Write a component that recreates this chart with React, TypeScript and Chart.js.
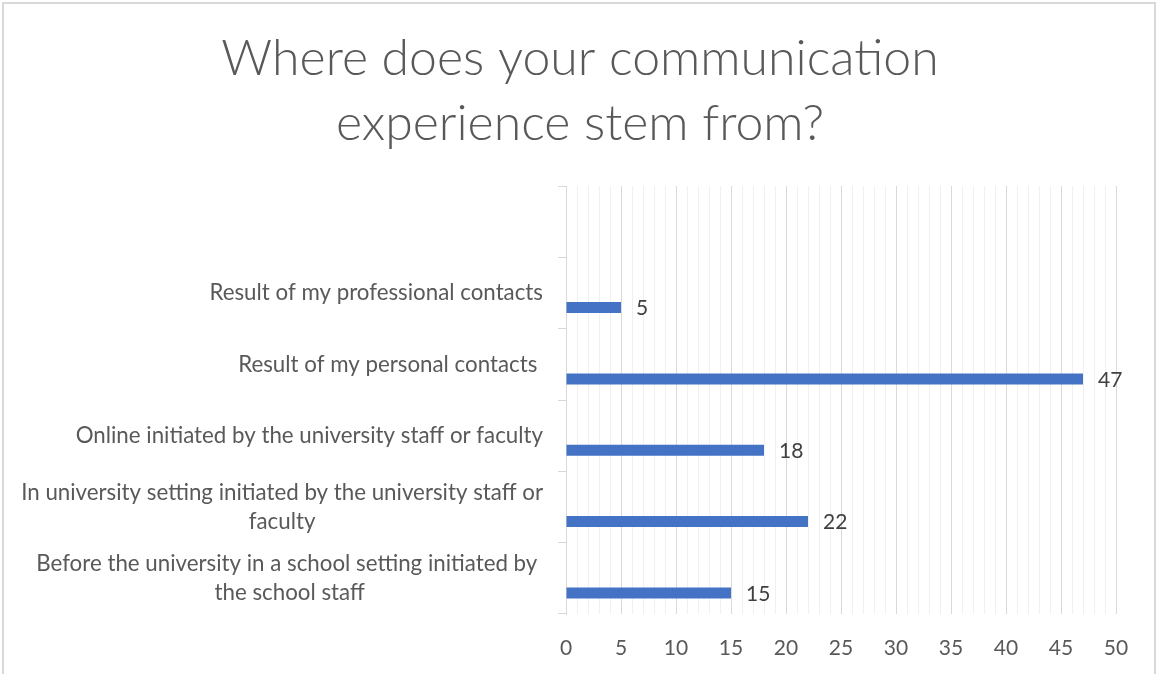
import React, { useEffect, useRef } from "react";
import { Chart, registerables } from "chart.js";

Chart.register(...registerables);

const titleLines = ["Where does your communication", "experience stem from?"];

const categories = [
  "",
  "Result of my professional contacts",
  "Result of my personal contacts ",
  "Online initiated by the university staff or faculty",
  "In university setting initiated by the university staff or\nfaculty",
  "Before the university in a school setting initiated by \nthe school staff",
];

const spacerSeries = [null, null, null, null, null, null];
const responseCounts = [null, 5, 47, 18, 22, 15];

const xMin = 0;
const xMax = 50;
const xStep = 1;
const xLabelEvery = 5;

const FONT = "Lato, 'Open Sans', 'DejaVu Sans', sans-serif";

const framePlugin = {
  id: "frame",
  beforeDraw(chart: any) {
    const ctx = chart.ctx;
    ctx.save();
    ctx.fillStyle = "#ffffff";
    ctx.fillRect(0, 0, chart.width, chart.height);
    ctx.strokeStyle = "#d9d9d9";
    ctx.lineWidth = 2;
    ctx.strokeRect(3, 3, chart.width - 5, chart.height + 20);
    ctx.restore();
  },
};

const titlePlugin = {
  id: "customTitle",
  afterDraw(chart: any) {
    const ctx = chart.ctx;
    ctx.save();
    ctx.fillStyle = "#595959";
    ctx.font = `300 50px ${FONT}`;
    ctx.textAlign = "center";
    ctx.textBaseline = "alphabetic";
    const cx = 580;
    titleLines.forEach((line, i) => {
      ctx.fillText(line, cx, 75 + i * 65);
    });
    ctx.restore();
  },
};

const yLabelPlugin = {
  id: "yLabels",
  afterDraw(chart: any) {
    const ctx = chart.ctx;
    const yScale = chart.scales.y;
    const right = chart.chartArea.left - 23;
    ctx.save();
    ctx.fillStyle = "#595959";
    ctx.font = `22.3px ${FONT}`;
    ctx.textAlign = "center";
    ctx.textBaseline = "middle";
    const lh = 29;
    categories.forEach((label, i) => {
      if (!label) return;
      const lines = label.split("\n");
      const w = Math.max(...lines.map((l) => ctx.measureText(l).width));
      const cx = right - w / 2;
      const yc = yScale.getPixelForValue(i);
      const y0 = yc - ((lines.length - 1) * lh) / 2;
      lines.forEach((l, j) => ctx.fillText(l, cx, y0 + j * lh));
    });
    ctx.restore();
  },
};

const valueLabelPlugin = {
  id: "valueLabels",
  afterDatasetsDraw(chart: any) {
    const ctx = chart.ctx;
    const meta = chart.getDatasetMeta(1);
    ctx.save();
    ctx.fillStyle = "#404040";
    ctx.font = `21px ${FONT}`;
    ctx.textAlign = "left";
    ctx.textBaseline = "middle";
    meta.data.forEach((bar: any, i: number) => {
      const v = responseCounts[i];
      if (v === null || v === undefined) return;
      ctx.fillText(String(v), bar.x + 15, bar.y + 1);
    });
    ctx.restore();
  },
};

export default function App() {
  const canvasRef = useRef<HTMLCanvasElement | null>(null);

  useEffect(() => {
    if (!canvasRef.current) return;
    const chart = new Chart(canvasRef.current, {
      type: "bar",
      data: {
        labels: categories,
        datasets: [
          {
            label: "spacer",
            data: spacerSeries as any,
            backgroundColor: "#4472C4",
          },
          {
            label: "Responses",
            data: responseCounts as any,
            backgroundColor: "#4472C4",
          },
        ],
      },
      options: {
        indexAxis: "y",
        animation: false,
        responsive: true,
        maintainAspectRatio: false,
        events: [],
        categoryPercentage: 0.82,
        barPercentage: 0.376,
        layout: {
          padding: { left: 558, right: 41, top: 186, bottom: 13 },
        },
        plugins: {
          legend: { display: false },
          title: { display: false },
          tooltip: { enabled: false },
        },
        scales: {
          x: {
            type: "linear",
            min: xMin,
            max: xMax,
            position: "bottom",
            border: { display: false },
            afterFit: (scale: any) => {
              scale.height = 47;
            },
            grid: {
              display: true,
              drawTicks: false,
              drawOnChartArea: true,
              lineWidth: 1,
              color: (c: any) =>
                c.tick && c.tick.value % xLabelEvery === 0 ? "#d9d9d9" : "#f0f0f0",
            },
            ticks: {
              stepSize: xStep,
              autoSkip: false,
              maxRotation: 0,
              minRotation: 0,
              padding: 22,
              color: "#595959",
              font: { family: FONT, size: 21 },
              callback: (v: any) => (Number(v) % xLabelEvery === 0 ? String(v) : ""),
            },
          },
          y: {
            type: "category",
            offset: true,
            border: { display: true, color: "#d9d9d9", width: 1 },
            grid: {
              display: true,
              offset: true,
              drawOnChartArea: false,
              drawTicks: true,
              tickLength: 8,
              color: "#d9d9d9",
            },
            ticks: { display: false },
          },
        },
      },
      plugins: [framePlugin, titlePlugin, yLabelPlugin, valueLabelPlugin],
    });
    return () => chart.destroy();
  }, []);

  return (
    <div style={{ position: "fixed", left: 0, top: 0, width: 1157, height: 674 }}>
      <canvas ref={canvasRef} />
    </div>
  );
}
